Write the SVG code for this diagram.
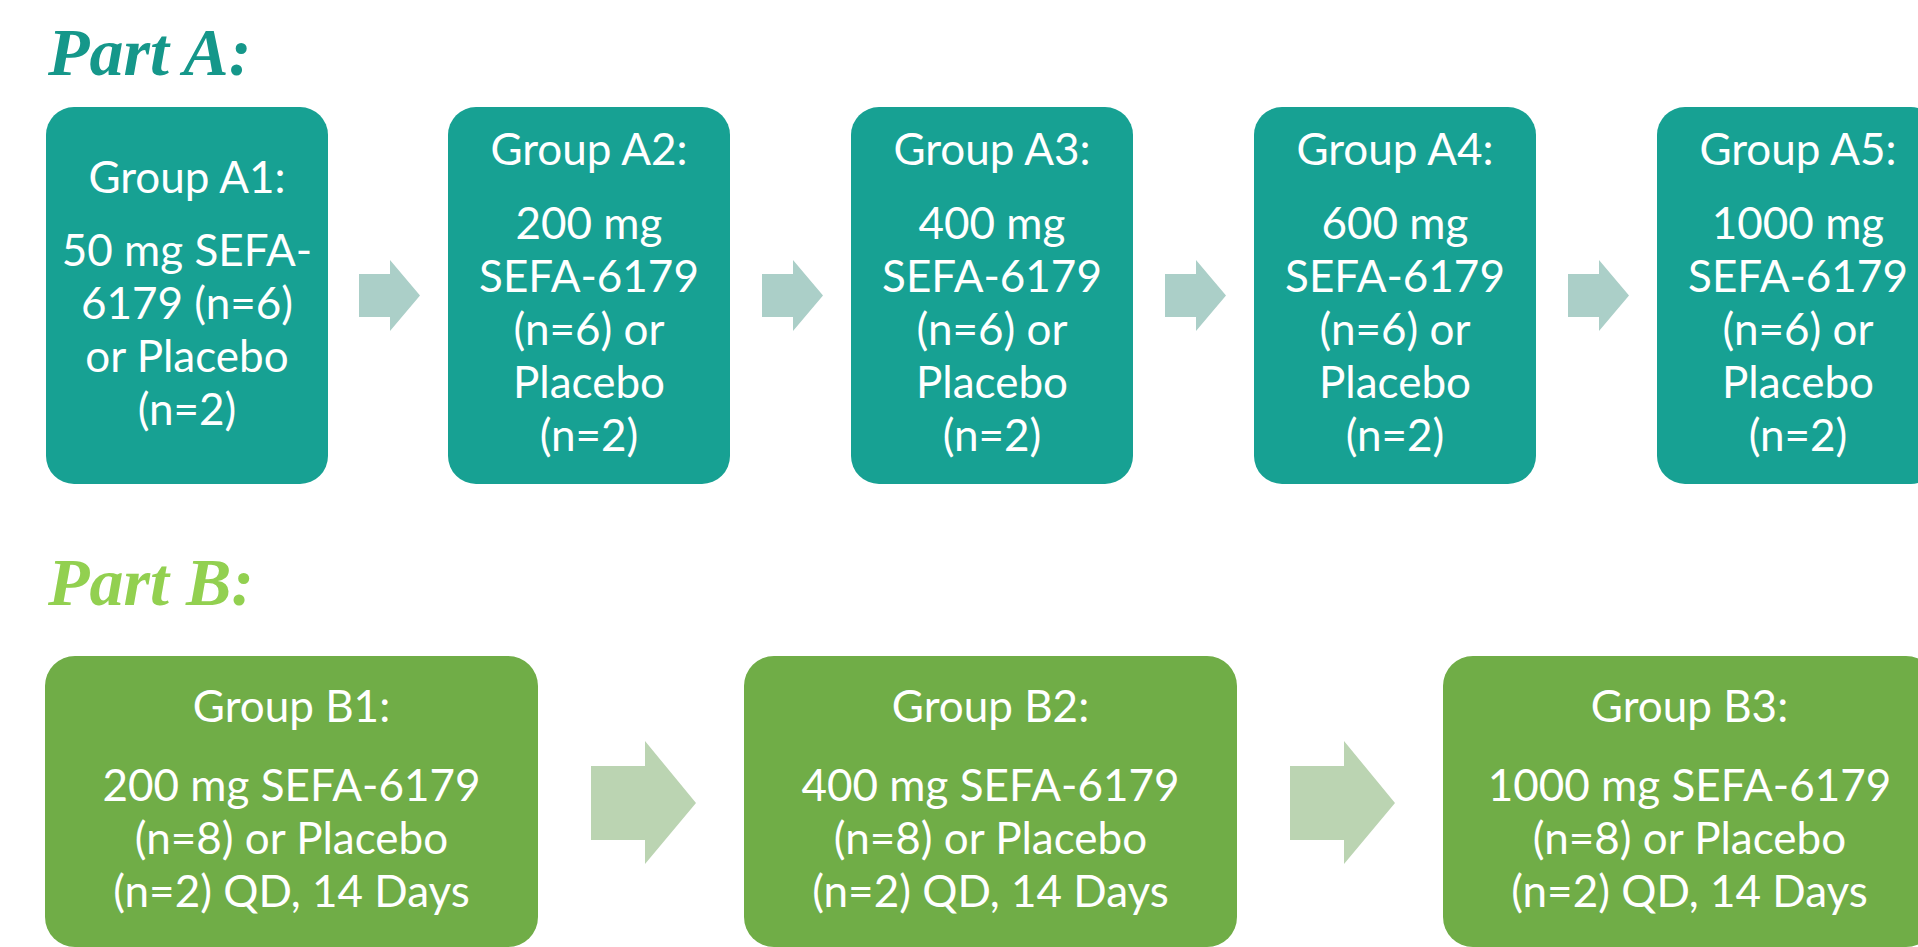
<svg xmlns="http://www.w3.org/2000/svg" width="1918" height="947" viewBox="0 0 1918 947">
<style>
.title{font-family:"Liberation Serif","Times New Roman",serif;font-weight:bold;font-style:italic;font-size:68px}
.ta{fill:#15978a}
.tb{fill:#92d050}
.boxA{fill:#17a193}
.boxB{fill:#70ad47}
.arrA{fill:#abcfc8}
.arrB{fill:#bbd4b2}
.lbl{font-family:Lato,"Open Sans",sans-serif;font-size:44px;fill:#ffffff;text-anchor:middle}
</style>
<rect width="1918" height="947" fill="#ffffff"/>
<text class="title ta" x="48" y="75">Part A:</text>
<text class="title tb" x="48" y="605">Part B:</text>

<g id="connectors">
<polygon class="arrA" points="359,274 390,274 390,260 420,295.5 390,331 390,317 359,317"/>
<polygon class="arrA" points="762,274 793,274 793,260 823,295.5 793,331 793,317 762,317"/>
<polygon class="arrA" points="1165,274 1196,274 1196,260 1226,295.5 1196,331 1196,317 1165,317"/>
<polygon class="arrA" points="1568,274 1599,274 1599,260 1629,295.5 1599,331 1599,317 1568,317"/>
<polygon class="arrB" points="591,766 645,766 645,741 696,803 645,864 645,840 591,840"/>
<polygon class="arrB" points="1290,766 1344,766 1344,741 1395,803 1344,864 1344,840 1290,840"/>
</g>

<g id="A1">
<rect class="boxA" x="46" y="107" width="282" height="377" rx="28"/>
<text class="lbl" x="187" y="193">Group A1:</text>
<text class="lbl" x="187" y="266">50 mg SEFA-</text>
<text class="lbl" x="187" y="319">6179 (n=6)</text>
<text class="lbl" x="187" y="372">or Placebo</text>
<text class="lbl" x="187" y="425">(n=2)</text>
</g>
<g id="A2">
<rect class="boxA" x="448" y="107" width="282" height="377" rx="28"/>
<text class="lbl" x="589" y="165">Group A2:</text>
<text class="lbl" x="589" y="239">200 mg</text>
<text class="lbl" x="589" y="292">SEFA-6179</text>
<text class="lbl" x="589" y="345">(n=6) or</text>
<text class="lbl" x="589" y="398">Placebo</text>
<text class="lbl" x="589" y="451">(n=2)</text>
</g>
<g id="A3">
<rect class="boxA" x="851" y="107" width="282" height="377" rx="28"/>
<text class="lbl" x="992" y="165">Group A3:</text>
<text class="lbl" x="992" y="239">400 mg</text>
<text class="lbl" x="992" y="292">SEFA-6179</text>
<text class="lbl" x="992" y="345">(n=6) or</text>
<text class="lbl" x="992" y="398">Placebo</text>
<text class="lbl" x="992" y="451">(n=2)</text>
</g>
<g id="A4">
<rect class="boxA" x="1254" y="107" width="282" height="377" rx="28"/>
<text class="lbl" x="1395" y="165">Group A4:</text>
<text class="lbl" x="1395" y="239">600 mg</text>
<text class="lbl" x="1395" y="292">SEFA-6179</text>
<text class="lbl" x="1395" y="345">(n=6) or</text>
<text class="lbl" x="1395" y="398">Placebo</text>
<text class="lbl" x="1395" y="451">(n=2)</text>
</g>
<g id="A5">
<rect class="boxA" x="1657" y="107" width="282" height="377" rx="28"/>
<text class="lbl" x="1798" y="165">Group A5:</text>
<text class="lbl" x="1798" y="239">1000 mg</text>
<text class="lbl" x="1798" y="292">SEFA-6179</text>
<text class="lbl" x="1798" y="345">(n=6) or</text>
<text class="lbl" x="1798" y="398">Placebo</text>
<text class="lbl" x="1798" y="451">(n=2)</text>
</g>

<g id="B1">
<rect class="boxB" x="45" y="656" width="493" height="291" rx="30"/>
<text class="lbl" x="291.5" y="722">Group B1:</text>
<text class="lbl" x="291.5" y="801">200 mg SEFA-6179</text>
<text class="lbl" x="291.5" y="854">(n=8) or Placebo</text>
<text class="lbl" x="291.5" y="907">(n=2) QD, 14 Days</text>
</g>
<g id="B2">
<rect class="boxB" x="744" y="656" width="493" height="291" rx="30"/>
<text class="lbl" x="990.5" y="722">Group B2:</text>
<text class="lbl" x="990.5" y="801">400 mg SEFA-6179</text>
<text class="lbl" x="990.5" y="854">(n=8) or Placebo</text>
<text class="lbl" x="990.5" y="907">(n=2) QD, 14 Days</text>
</g>
<g id="B3">
<rect class="boxB" x="1443" y="656" width="493" height="291" rx="30"/>
<text class="lbl" x="1689.5" y="722">Group B3:</text>
<text class="lbl" x="1689.5" y="801">1000 mg SEFA-6179</text>
<text class="lbl" x="1689.5" y="854">(n=8) or Placebo</text>
<text class="lbl" x="1689.5" y="907">(n=2) QD, 14 Days</text>
</g>
</svg>
